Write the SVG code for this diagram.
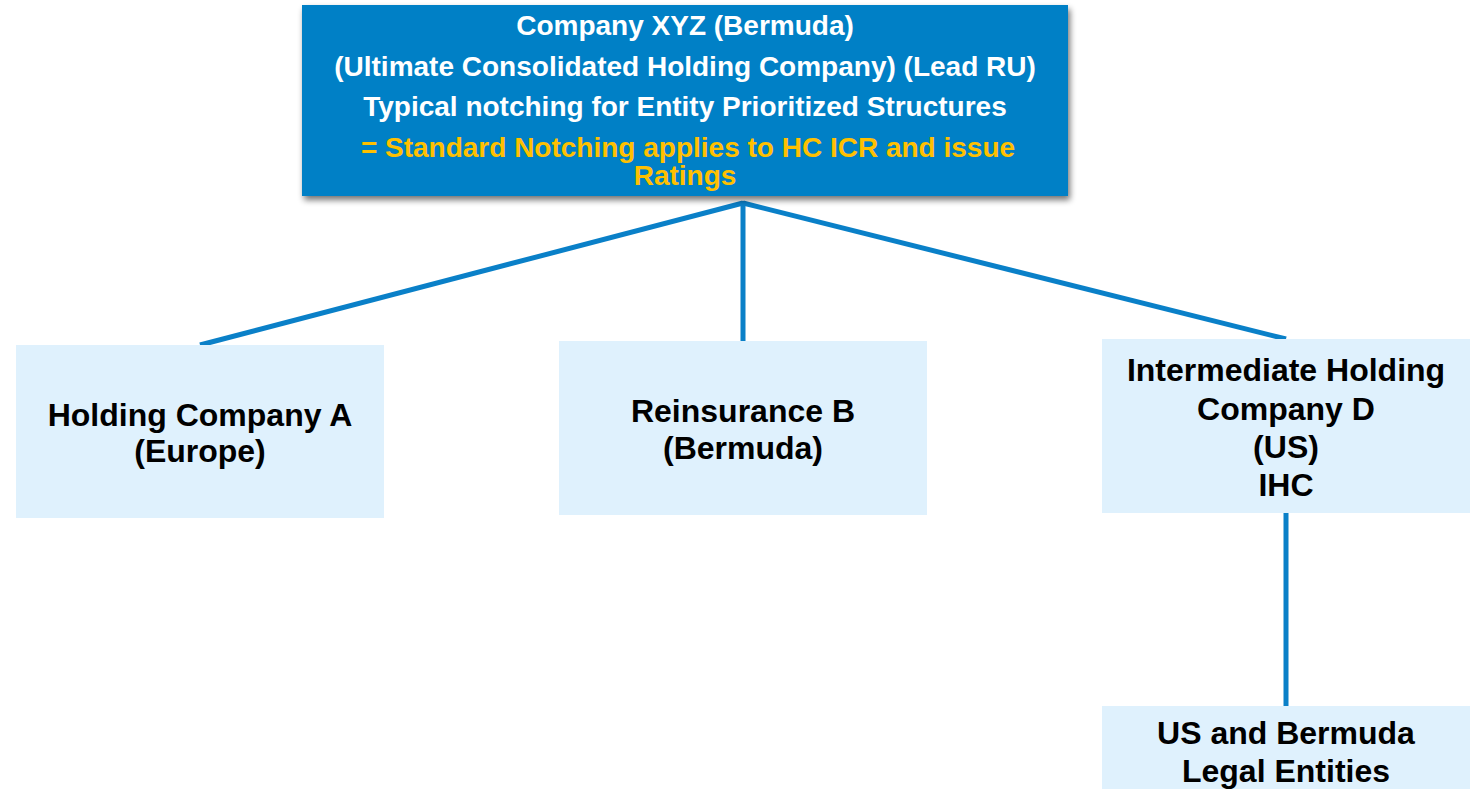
<svg xmlns="http://www.w3.org/2000/svg" width="1476" height="789" viewBox="0 0 1476 789">
  <defs>
    <filter id="shadow" x="-5%" y="-10%" width="110%" height="130%">
      <feGaussianBlur in="SourceAlpha" stdDeviation="3"/>
      <feOffset dx="2" dy="4" result="blur"/>
      <feComponentTransfer><feFuncA type="linear" slope="0.55"/></feComponentTransfer>
      <feMerge><feMergeNode/><feMergeNode in="SourceGraphic"/></feMerge>
    </filter>
    <style>
      .top { fill: #0080C6; }
      .box { fill: #DFF1FD; }
      .hdr { font-family: "Liberation Sans", Arial, sans-serif; font-weight: bold; font-size: 28px; fill: #FFFFFF; text-anchor: middle; }
      .hdr.gold { fill: #FFC000; }
      .lbl { font-family: "Liberation Sans", Arial, sans-serif; font-weight: bold; font-size: 32px; fill: #000000; text-anchor: middle; }
      .link { stroke: #0A80C8; stroke-width: 5; fill: none; stroke-linecap: butt; }
    </style>
  </defs>

  <rect width="1476" height="789" fill="#FFFFFF"/>

  <!-- connectors -->
  <g id="connectors">
    <line class="link" x1="743" y1="203" x2="200" y2="345"/>
    <line class="link" x1="743" y1="201" x2="743" y2="341"/>
    <line class="link" x1="743" y1="203" x2="1286" y2="339"/>
    <line class="link" x1="1286" y1="513" x2="1286" y2="706"/>
  </g>

  <!-- parent company -->
  <g id="company-xyz">
    <rect class="top" x="302" y="5" width="766" height="191" filter="url(#shadow)"/>
    <text class="hdr" x="685" y="35">Company XYZ (Bermuda)</text>
    <text class="hdr" x="685" y="76">(Ultimate Consolidated Holding Company) (Lead RU)</text>
    <text class="hdr" x="685" y="116">Typical notching for Entity Prioritized Structures</text>
    <text class="hdr gold" x="688" y="157">= Standard Notching applies to HC ICR and issue</text>
    <text class="hdr gold" x="685" y="185">Ratings</text>
  </g>

  <g id="holding-a">
    <rect class="box" x="16" y="345" width="368" height="173"/>
    <text class="lbl" x="200" y="426">Holding Company A</text>
    <text class="lbl" x="200" y="462">(Europe)</text>
  </g>

  <g id="reinsurance-b">
    <rect class="box" x="559" y="341" width="368" height="174"/>
    <text class="lbl" x="743" y="422">Reinsurance B</text>
    <text class="lbl" x="743" y="459">(Bermuda)</text>
  </g>

  <g id="holding-d">
    <rect class="box" x="1102" y="339" width="368" height="174"/>
    <text class="lbl" x="1286" y="381">Intermediate Holding</text>
    <text class="lbl" x="1286" y="420">Company D</text>
    <text class="lbl" x="1286" y="458">(US)</text>
    <text class="lbl" x="1286" y="496">IHC</text>
  </g>

  <g id="legal-entities">
    <rect class="box" x="1102" y="706" width="368" height="90"/>
    <text class="lbl" x="1286" y="744">US and Bermuda</text>
    <text class="lbl" x="1286" y="782">Legal Entities</text>
  </g>
</svg>
